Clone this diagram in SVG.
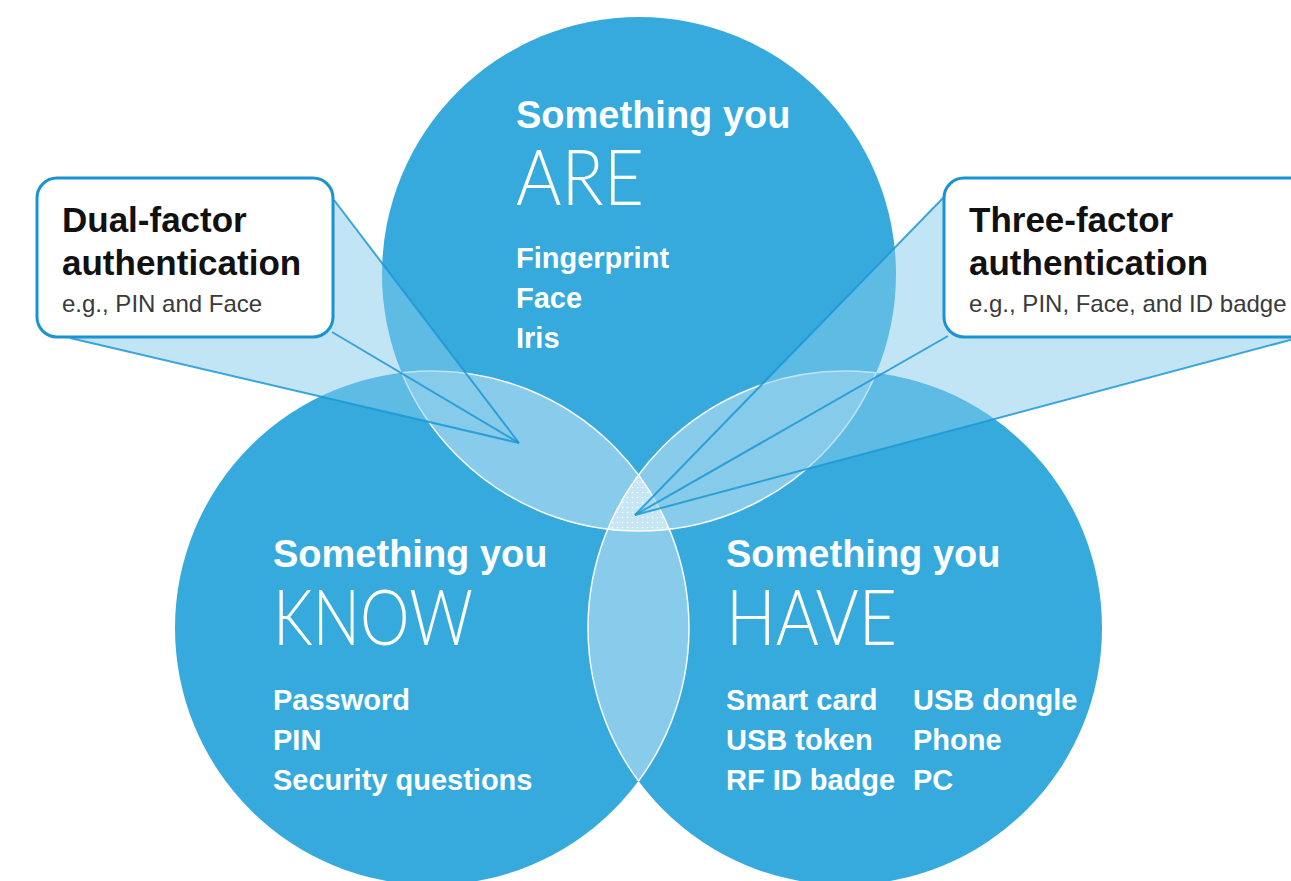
<svg xmlns="http://www.w3.org/2000/svg" width="1291" height="881" viewBox="0 0 1291 881">
  <style>
    .circle { fill: #36aadd; }
    .lens { fill: #88cbea; }
    .outline { fill: none; stroke: #ffffff; stroke-width: 1.5; opacity: 0.95; }
    .wedge { fill: #85cbeb; fill-opacity: 0.5; stroke: none; }
    .wline { stroke: #1b98d6; stroke-width: 2; stroke-opacity: 0.85; fill: none; }
    .box { fill: #ffffff; stroke: #1a93d2; stroke-width: 3; }
    .head { font-family: "Liberation Sans", Arial, sans-serif; font-weight: bold; font-size: 38px; fill: #ffffff; }
    .big { font-family: "Lato", "Open Sans", "Liberation Sans", sans-serif; font-weight: 300; font-size: 76px; fill: #ffffff; }
    .item { font-family: "Liberation Sans", Arial, sans-serif; font-weight: bold; font-size: 29px; fill: #ffffff; }
    .btitle { font-family: "Liberation Sans", Arial, sans-serif; font-weight: bold; font-size: 35px; fill: #111111; }
    .bsub { font-family: "Liberation Sans", Arial, sans-serif; font-size: 24px; fill: #3a3a3a; }
  </style>
  <defs>
    <clipPath id="cTop"><circle cx="639" cy="274" r="257"/></clipPath>
    <clipPath id="cLeft"><circle cx="432" cy="628" r="257"/></clipPath>
    <clipPath id="cRight"><circle cx="845" cy="628" r="257"/></clipPath>
    <clipPath id="cLR"><circle cx="432" cy="628" r="257"/><circle cx="845" cy="628" r="257"/></clipPath>
    <clipPath id="cTR"><circle cx="639" cy="274" r="257"/><circle cx="845" cy="628" r="257"/></clipPath>
    <clipPath id="cTL"><circle cx="639" cy="274" r="257"/><circle cx="432" cy="628" r="257"/></clipPath>
    <pattern id="dots" width="5" height="5" patternUnits="userSpaceOnUse">
      <rect width="5" height="5" fill="#c6e6f5"/>
      <circle cx="2.5" cy="2.5" r="0.8" fill="#ffffff"/>
    </pattern>
  </defs>

  <rect width="1291" height="881" fill="#ffffff"/>

  <g id="node-are">
    <circle class="circle" cx="639" cy="274" r="257"/>
  </g>
  <g id="node-know">
    <circle class="circle" cx="432" cy="628" r="257"/>
  </g>
  <g id="node-have">
    <circle class="circle" cx="845" cy="628" r="257"/>
  </g>

  <g id="overlaps">
    <circle class="lens" cx="432" cy="628" r="257" clip-path="url(#cTop)"/>
    <circle class="lens" cx="845" cy="628" r="257" clip-path="url(#cTop)"/>
    <circle class="lens" cx="845" cy="628" r="257" clip-path="url(#cLeft)"/>
    <g clip-path="url(#cTop)">
      <circle cx="845" cy="628" r="257" fill="url(#dots)" clip-path="url(#cLeft)"/>
    </g>
    <g clip-path="url(#cLR)"><circle class="outline" cx="639" cy="274" r="257"/></g>
    <g clip-path="url(#cTR)"><circle class="outline" cx="432" cy="628" r="257"/></g>
    <g clip-path="url(#cTL)"><circle class="outline" cx="845" cy="628" r="257"/></g>
  </g>

  <g id="node-are-text">
    <text class="head" x="516" y="128">Something you</text>
    <text class="big" x="516" y="205" textLength="128" lengthAdjust="spacingAndGlyphs">ARE</text>
    <text class="item" x="516" y="268">Fingerprint</text>
    <text class="item" x="516" y="308">Face</text>
    <text class="item" x="516" y="348">Iris</text>
  </g>
  <g id="node-know-text">
    <text class="head" x="273" y="567">Something you</text>
    <text class="big" x="273" y="645" textLength="200" lengthAdjust="spacingAndGlyphs">KNOW</text>
    <text class="item" x="273" y="710">Password</text>
    <text class="item" x="273" y="750">PIN</text>
    <text class="item" x="273" y="790">Security questions</text>
  </g>
  <g id="node-have-text">
    <text class="head" x="726" y="567">Something you</text>
    <text class="big" x="726" y="645" textLength="171" lengthAdjust="spacingAndGlyphs">HAVE</text>
    <text class="item" x="726" y="710">Smart card</text>
    <text class="item" x="726" y="750">USB token</text>
    <text class="item" x="726" y="790">RF ID badge</text>
    <text class="item" x="913" y="710">USB dongle</text>
    <text class="item" x="913" y="750">Phone</text>
    <text class="item" x="913" y="790">PC</text>
  </g>

  <g id="connectors">
    <polygon class="wedge" points="334,200 519,443 70,338"/>
    <line class="wline" x1="334" y1="200" x2="519" y2="443"/>
    <line class="wline" x1="332" y1="332" x2="519" y2="443"/>
    <line class="wline" x1="70" y1="338" x2="519" y2="443"/>
    <polygon class="wedge" points="944,197 635,515 1320,332"/>
    <line class="wline" x1="944" y1="197" x2="635" y2="515"/>
    <line class="wline" x1="948" y1="336" x2="635" y2="515"/>
    <line class="wline" x1="1320" y1="332" x2="635" y2="515"/>
  </g>

  <g id="callout-dual">
    <rect class="box" x="37" y="178" width="296" height="159" rx="20"/>
    <text class="btitle" x="62" y="232">Dual-factor</text>
    <text class="btitle" x="62" y="275">authentication</text>
    <text class="bsub" x="62" y="312">e.g., PIN and Face</text>
  </g>
  <g id="callout-three">
    <rect class="box" x="944" y="178" width="380" height="159" rx="20"/>
    <text class="btitle" x="969" y="232">Three-factor</text>
    <text class="btitle" x="969" y="275">authentication</text>
    <text class="bsub" x="969" y="312">e.g., PIN, Face, and ID badge</text>
  </g>
</svg>
